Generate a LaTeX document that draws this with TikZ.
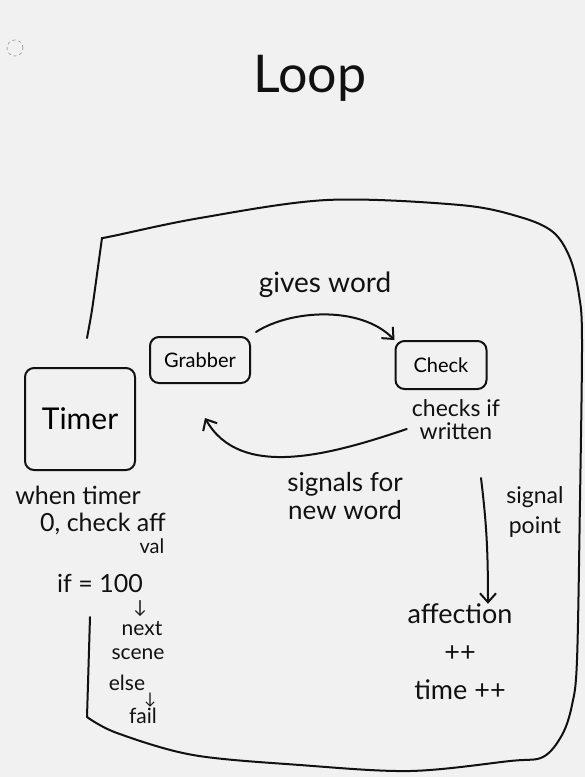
\documentclass[tikz,border=0pt]{standalone}
\usepackage{fontspec}
\setmainfont{Lato}
\usetikzlibrary{arrows.meta}
\definecolor{paper}{HTML}{F1F1F1}
\definecolor{ink}{HTML}{111111}
\tikzset{
  pen/.style={draw=ink, line width=2pt, line cap=round, line join=round},
  boxed/.style={pen, rounded corners=9pt, inner sep=0pt, font=\fontsize{20}{22}\selectfont},
  lbl/.style={text=ink, align=center, inner sep=0pt, font=\fontsize{26}{28}\selectfont},
  arr/.style={pen, -{Straight Barb[length=9pt,width=16pt,line width=2pt]}}
}
\begin{document}
\begin{tikzpicture}[x=1pt,y=-1pt]
\useasboundingbox[fill=paper] (0,0) rectangle (585,777);
% small dashed circle
\node[draw=gray!80, dashed, line width=0.7pt, circle, minimum size=16pt, inner sep=0pt] (dot) at (15,48) {};
% title
\node[text=ink, inner sep=0pt, font=\fontsize{52}{56}\selectfont] (title) at (310,78) {Loop};
% outer loop frame
\draw[pen] (90,617) -- (87,717);
\draw[pen] plot[smooth, tension=0.55] coordinates {(87,717) (117,733) (193,755) (300,765) (410,771) (510,761) (543,757) (562,735) (572,705) (577,660) (580,500) (582,340) (579,295) (570,258) (553,232) (520,217) (460,205) (327,200) (200,218) (113,236) (102,238)};
\draw[pen] plot[smooth, tension=0.5] coordinates {(102,238) (98,267) (92,310) (87,338)};
% boxes
\node[boxed, minimum width=110pt, minimum height=102pt, font=\fontsize{30}{32}\selectfont] (timer) at (80,419) {Timer};
\node[boxed, minimum width=100pt, minimum height=46pt] (grabber) at (200,360) {Grabber};
\node[boxed, minimum width=91pt, minimum height=48pt] (check) at (441,365) {Check};
% labels
\node[lbl, font=\fontsize{28}{30}\selectfont] (gives) at (325,285) {gives word};
\node[lbl, font=\fontsize{23}{23}\selectfont] (checktxt) at (456,420) {checks if\\written};
\node[lbl] (signals) at (345,496) {signals for\\new word};
\node[lbl, font=\fontsize{23}{30}\selectfont] (signal) at (535,512) {signal\\point};
\node[lbl, font=\fontsize{27}{38}\selectfont] (aff) at (460,652) {affection\\++\\time ++};
\node[lbl, font=\fontsize{25}{26}\selectfont] (when1) at (78,495) {when timer};
\node[lbl, font=\fontsize{25}{26}\selectfont] (when2) at (103,524) {0, check aff};
\node[lbl, font=\fontsize{20}{20}\selectfont] (val) at (152,546) {val};
\node[lbl, font=\fontsize{25}{26}\selectfont] (ifv) at (100,583) {if = 100};
\node[lbl, font=\fontsize{18}{18}\selectfont] (ar1) at (140,609) {\textdownarrow};
\node[lbl, font=\fontsize{21}{21}\selectfont] (nxt) at (142,629) {next};
\node[lbl, font=\fontsize{21}{21}\selectfont] (scene) at (138,654) {scene};
\node[lbl, font=\fontsize{21}{21}\selectfont] (els) at (127,683) {else};
\node[lbl, font=\fontsize{16}{16}\selectfont] (ar2) at (150,700) {\textdownarrow};
\node[lbl, font=\fontsize{21}{21}\selectfont] (fail) at (143,716) {fail};
% connectors
\coordinate (gin) at (205,418);
\draw[arr] (grabber.north east) ++(5,-4) coordinate (gout)
  (gout) .. controls (290,310) and (360,305) .. (check.north west);
\draw[arr] (checktxt.west) ++(-5,9) coordinate (cout)
  (cout) .. controls (330,455) and (240,480) .. (gin);
\coordinate (dtop) at (481,478);
\draw[arr] (dtop) .. controls (486,520) and (488,545) .. (aff.north -| 488,0);
\end{tikzpicture}
\end{document}
